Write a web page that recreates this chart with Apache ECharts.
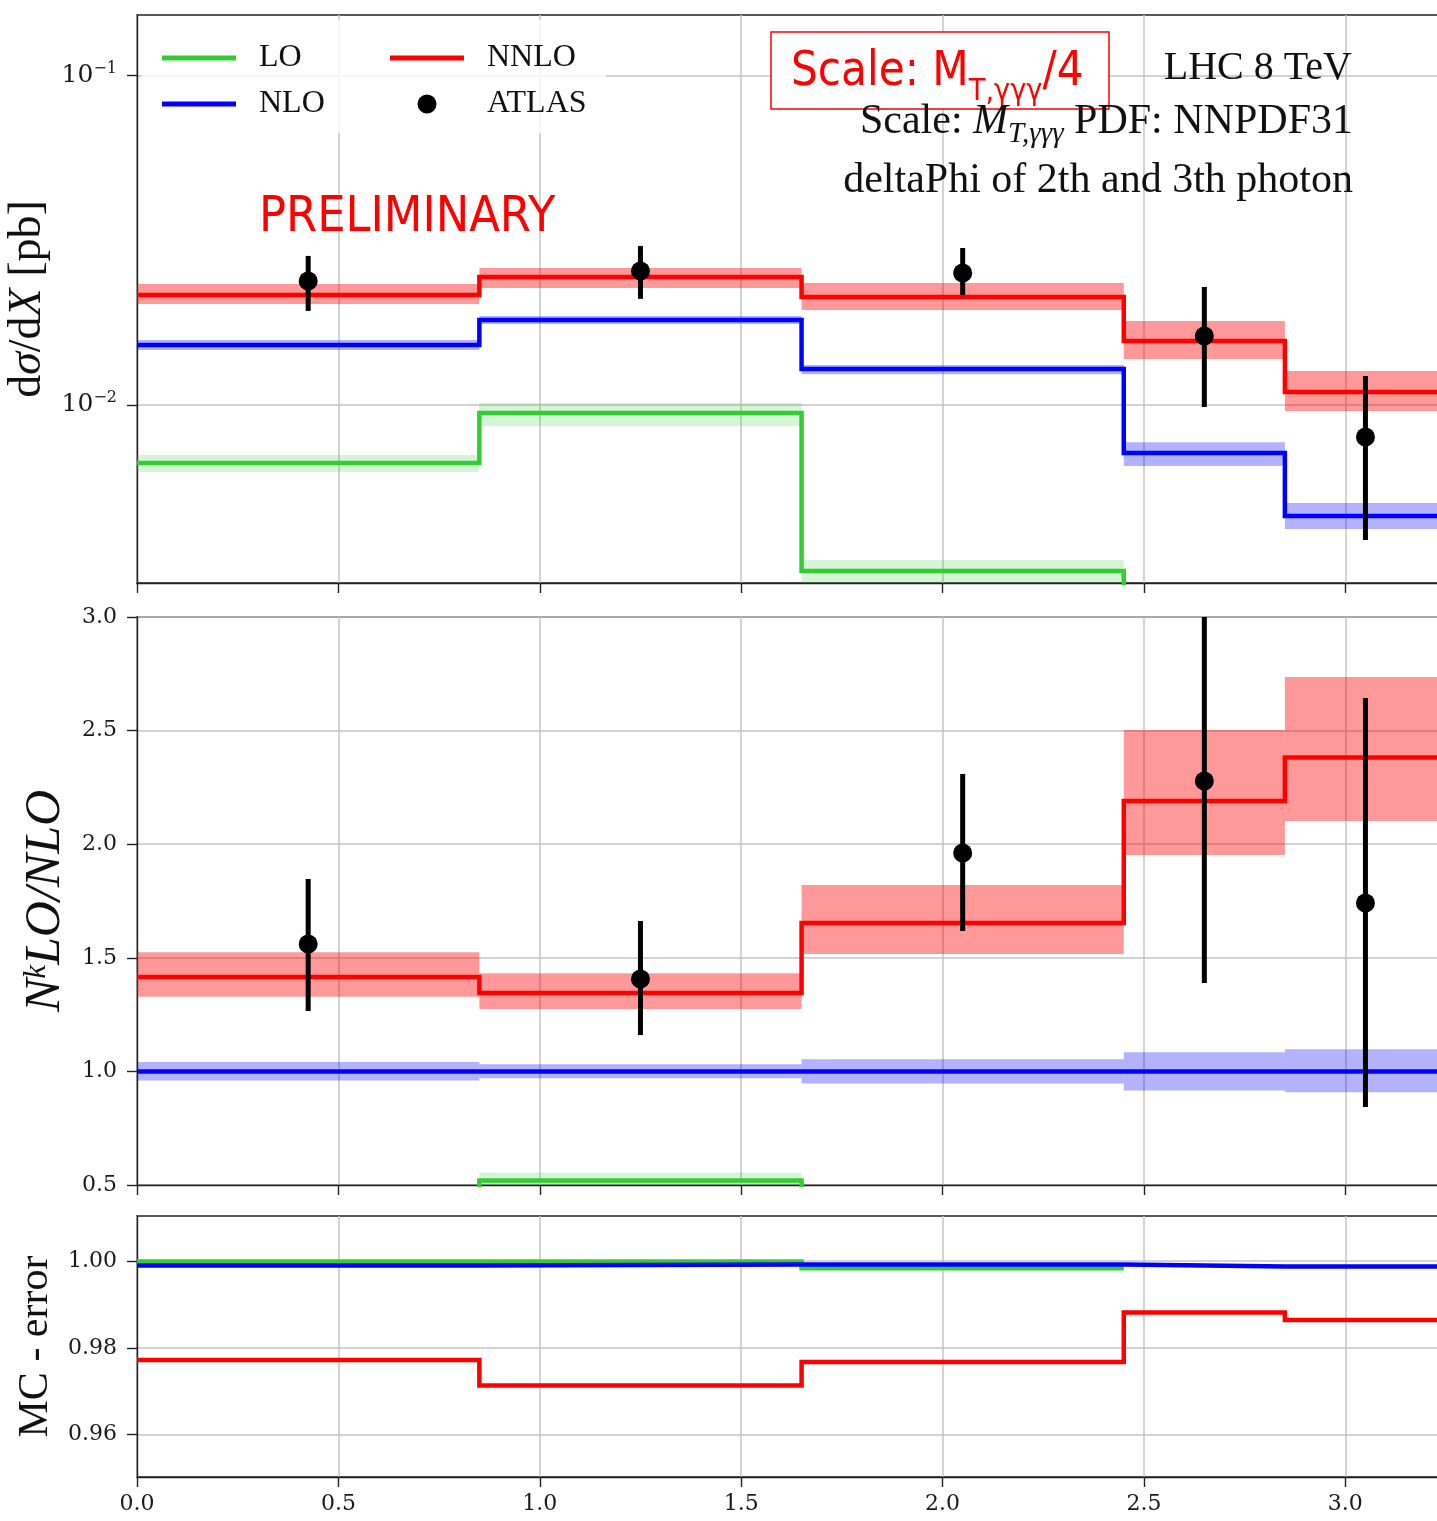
<!DOCTYPE html>
<html>
<head>
<meta charset="utf-8">
<script src="https://cdn.jsdelivr.net/npm/echarts@6/dist/echarts.min.js"></script>
<style>
  html, body { margin: 0; padding: 0; background: #ffffff; }
  #chart { width: 1437px; height: 1521px; }
</style>
</head>
<body>
<div id="chart"></div>
<script>
// ---- binning in deltaPhi (2nd/3rd photon) ----
const binEdges   = [0, 0.85, 1.65, 2.45, 2.85, 3.25];
const binCenters = [0.425, 1.25, 2.05, 2.65, 3.05];

// ---- dσ/dX [pb] ----
const loXsec       = [0.00667, 0.00946, 0.00313, 0, 0];
const loXsecLow    = [0.00626, 0.00863, 0.0028, null, null];
const loXsecHigh   = [0.00705, 0.01014, 0.00338, null, null];
const nloXsec      = [0.01521, 0.01811, 0.01286, 0.00715, 0.00460];
const nloXsecLow   = [0.01469, 0.01762, 0.01240, 0.00653, 0.00420];
const nloXsecHigh  = [0.01575, 0.01862, 0.01322, 0.00771, 0.00504];
const nnloXsec     = [0.02158, 0.02447, 0.02128, 0.01565, 0.01095];
const nnloXsecLow  = [0.02026, 0.02266, 0.01943, 0.01380, 0.00959];
const nnloXsecHigh = [0.02331, 0.02606, 0.02347, 0.01799, 0.01269];
const atlasXsec    = [0.02379, 0.02551, 0.02516, 0.01620, 0.00799];
const atlasXsecLow = [0.01930, 0.02100, 0.02158, 0.00986, 0.00389];
const atlasXsecHigh= [0.02835, 0.03040, 0.02997, 0.02282, 0.01225];

// ---- N^kLO / NLO ----
const loRatio       = [0.44, 0.52, 0.24, 0, 0];
const loRatioLow    = [0.41, 0.48, 0.22, null, null];
const loRatioHigh   = [0.46, 0.555, 0.26, null, null];
const nloRatio      = [1.0, 1.0, 1.0, 1.0, 1.0];
const nloRatioLow   = [0.960, 0.970, 0.947, 0.916, 0.908];
const nloRatioHigh  = [1.041, 1.031, 1.053, 1.084, 1.097];
const nnloRatio     = [1.415, 1.345, 1.653, 2.190, 2.382];
const nnloRatioLow  = [1.329, 1.275, 1.517, 1.952, 2.102];
const nnloRatioHigh = [1.524, 1.432, 1.820, 2.503, 2.736];
const atlasRatio    = [1.561, 1.407, 1.961, 2.278, 1.741];
const atlasRatioLow = [1.266, 1.160, 1.618, 1.389, 0.843];
const atlasRatioHigh= [1.847, 1.662, 2.309, 3.170, 2.643];

// ---- MC - error ----
const loMcError   = [0.99992, 0.99992, 0.99834, null, null];
const nloMcError  = [0.99901, 0.99923, 0.99923, 0.99877, 0.99877];
const nnloMcError = [0.97716, 0.97130, 0.97670, 0.98815, 0.98640];

// ---- axis ranges and ticks ----
const xTickValues   = [0, 0.5, 1.0, 1.5, 2.0, 2.5, 3.0];
const topMajorTicks = [0.01, 0.1];
const topMinorTicks = [0.003, 0.004, 0.005, 0.006, 0.007, 0.008, 0.009,
                       0.02, 0.03, 0.04, 0.05, 0.06, 0.07, 0.08, 0.09];
const mcTickValues  = [0.96, 0.98, 1.00];

const X_MAX = 3.25;
const TOP_MIN = 0.00288, TOP_MAX = 0.1528;
const RATIO_MIN = 0.5, RATIO_MAX = 3.0, RATIO_STEP = 0.5;
const MC_MIN = 0.9502, MC_MAX = 1.0104;

const COLORS = { LO: '#32cd32', NLO: '#0000ff', NNLO: '#ff0000' };
const BAND   = { LO: 'rgba(50,205,50,0.2)', NLO: 'rgba(0,0,255,0.3)', NNLO: 'rgba(255,0,0,0.4)' };

const SERIF = s => `${s}px "Liberation Serif"`;
const ITAL  = s => `italic ${s}px "Liberation Serif"`;
const frame = { color: '#222222', width: 1.4 };
const gridLine = { color: '#c4c4c4', width: 1.5 };

// histogram outline: each bin becomes a flat segment, neighbours joined by verticals
function stepData(vals, floor) {
  const pts = [];
  vals.forEach((v, i) => {
    if (v == null) { pts.push([binEdges[i], null]); return; }
    const y = (floor != null && v <= 0) ? floor : v;   // empty bins sit below a log axis
    pts.push([binEdges[i], y], [binEdges[i + 1], y]);
  });
  return pts;
}

function stepSeries(name, vals, xi, yi, floor) {
  return {
    type: 'line', name, xAxisIndex: xi, yAxisIndex: yi,
    data: stepData(vals, floor), symbol: 'none', clip: true, z: 3,
    color: COLORS[name], silent: true,
    lineStyle: { color: COLORS[name], width: 4.5, join: 'miter', cap: 'butt' }
  };
}

function bandSeries(name, low, high, xi, yi) {
  const rows = low.map((lo, i) => [binEdges[i], binEdges[i + 1], lo, high[i]])
                  .filter(r => r[2] != null && r[3] != null);
  return {
    type: 'custom', name: name + ' band', xAxisIndex: xi, yAxisIndex: yi,
    data: rows, encode: { x: [0, 1], y: [2, 3] }, silent: true, z: 2, clip: true,
    renderItem(params, api) {
      const a = api.coord([api.value(0), api.value(3)]);
      const b = api.coord([api.value(1), api.value(2)]);
      const cs = params.coordSys;
      const shape = echarts.graphic.clipRectByRect(
        { x: a[0], y: a[1], width: b[0] - a[0], height: b[1] - a[1] },
        { x: cs.x, y: cs.y, width: cs.width, height: cs.height });
      return shape && { type: 'rect', shape, style: { fill: BAND[name] } };
    }
  };
}

function errorBarSeries(low, high, xi, yi) {
  return {
    type: 'custom', name: 'ATLAS errors', xAxisIndex: xi, yAxisIndex: yi,
    data: binCenters.map((x, i) => [x, low[i], high[i]]),
    encode: { x: 0, y: [1, 2] }, silent: true, z: 4,
    renderItem(params, api) {
      const top = api.coord([api.value(0), api.value(2)]);
      const bot = api.coord([api.value(0), api.value(1)]);
      const cs = params.coordSys;
      return {
        type: 'line',
        shape: { x1: top[0], y1: Math.max(top[1], cs.y), x2: bot[0], y2: Math.min(bot[1], cs.y + cs.height) },
        style: { stroke: '#000000', lineWidth: 5 }
      };
    }
  };
}

function pointSeries(vals, xi, yi) {
  return {
    type: 'scatter', name: 'ATLAS', xAxisIndex: xi, yAxisIndex: yi,
    data: binCenters.map((x, i) => [x, vals[i]]),
    symbol: 'circle', symbolSize: 19, itemStyle: { color: '#000000', opacity: 1 }, z: 5, silent: true
  };
}

function xAxisFor(gridIndex, showLabels) {
  return {
    type: 'value', gridIndex, min: 0, max: X_MAX,
    axisLine: { show: true, onZero: false, lineStyle: frame },
    axisTick: { show: true, length: 10, lineStyle: frame, customValues: xTickValues },
    axisLabel: {
      show: showLabels, customValues: xTickValues, margin: 16,
      formatter: v => v.toFixed(1),
      fontFamily: 'DejaVu Serif', fontSize: 22, color: '#1a1a1a'
    },
    splitLine: { show: true, lineStyle: gridLine }
  };
}

function gridAt(top, height) {
  return {
    left: 137, top, width: 1309, height, show: true,
    borderColor: '#222222', borderWidth: 1.4,
    outerBoundsMode: 'none', containLabel: false
  };
}

const tickLabel = { fontFamily: 'DejaVu Serif', fontSize: 22, color: '#1a1a1a', margin: 20 };

const option = {
  animation: false,
  backgroundColor: '#ffffff',
  grid: [gridAt(15, 568), gridAt(617, 568), gridAt(1216, 261)],
  xAxis: [xAxisFor(0, false), xAxisFor(1, false), xAxisFor(2, true)],
  yAxis: [
    { // dσ/dX, decades
      type: 'log', logBase: 10, gridIndex: 0, min: TOP_MIN, max: TOP_MAX,
      axisLine: { show: true, lineStyle: frame },
      axisTick: { show: true, length: 10, lineStyle: frame, customValues: topMajorTicks },
      axisLabel: {
        customValues: topMajorTicks, margin: 20,
        formatter: v => '{b|10}{p|−' + Math.round(-Math.log10(v)) + '}',
        rich: {
          b: { fontFamily: 'DejaVu Serif', fontSize: 25, lineHeight: 30, color: '#1a1a1a' },
          p: { fontFamily: 'DejaVu Serif', fontSize: 16, lineHeight: 18, verticalAlign: 'top', color: '#1a1a1a' }
        }
      },
      splitLine: { show: true, lineStyle: gridLine },
      name: 'd{i|σ}/d{i|X} [pb]', nameLocation: 'middle', nameRotate: 90, nameGap: 80,
      nameTextStyle: {
        fontFamily: 'Liberation Serif', fontSize: 46, color: '#111111',
        rich: { i: { fontFamily: 'Liberation Serif', fontStyle: 'italic', fontSize: 46, color: '#111111' } }
      }
    },
    { // dσ/dX, minor ticks
      type: 'log', logBase: 10, gridIndex: 0, min: TOP_MIN, max: TOP_MAX,
      axisLine: { show: false },
      axisTick: { show: true, length: 5, lineStyle: frame, customValues: topMinorTicks },
      axisLabel: { show: false },
      splitLine: { show: false }
    },
    { // ratio
      type: 'value', gridIndex: 1, min: RATIO_MIN, max: RATIO_MAX, interval: RATIO_STEP,
      axisLine: { show: true, lineStyle: frame },
      axisTick: { show: true, length: 10, lineStyle: frame },
      axisLabel: Object.assign({ formatter: v => v.toFixed(1) }, tickLabel),
      splitLine: { show: true, lineStyle: gridLine },
      name: '{i|N}{s|k}{i|LO/NLO}', nameLocation: 'middle', nameRotate: 90, nameGap: 58,
      nameTextStyle: {
        fontFamily: 'Liberation Serif', fontStyle: 'italic', fontSize: 50, color: '#111111',
        rich: {
          i: { fontFamily: 'Liberation Serif', fontStyle: 'italic', fontSize: 50, lineHeight: 50, color: '#111111' },
          s: { fontFamily: 'Liberation Serif', fontStyle: 'italic', fontSize: 31, lineHeight: 22, verticalAlign: 'top', color: '#111111' }
        }
      }
    },
    { // MC - error
      type: 'value', gridIndex: 2, min: MC_MIN, max: MC_MAX,
      axisLine: { show: true, lineStyle: frame },
      axisTick: { show: true, length: 10, lineStyle: frame, customValues: mcTickValues },
      axisLabel: Object.assign({ customValues: mcTickValues, formatter: v => v.toFixed(2) }, tickLabel),
      splitLine: { show: true, lineStyle: gridLine },
      name: 'MC - error', nameLocation: 'middle', nameRotate: 90, nameGap: 78,
      nameTextStyle: { fontFamily: 'Liberation Serif', fontSize: 42, color: '#111111' }
    }
  ],
  legend: [
    legendColumn(162, [{ name: 'LO' }, { name: 'NLO' }]),
    legendColumn(390, [{ name: 'NNLO' }, { name: 'ATLAS', icon: 'circle' }])
  ],
  series: [
    // cross sections
    bandSeries('LO', loXsecLow, loXsecHigh, 0, 0),
    bandSeries('NLO', nloXsecLow, nloXsecHigh, 0, 0),
    bandSeries('NNLO', nnloXsecLow, nnloXsecHigh, 0, 0),
    stepSeries('LO', loXsec, 0, 0, TOP_MIN / 10),
    stepSeries('NLO', nloXsec, 0, 0),
    stepSeries('NNLO', nnloXsec, 0, 0),
    errorBarSeries(atlasXsecLow, atlasXsecHigh, 0, 0),
    pointSeries(atlasXsec, 0, 0),
    // ratios to NLO
    bandSeries('LO', loRatioLow, loRatioHigh, 1, 2),
    bandSeries('NLO', nloRatioLow, nloRatioHigh, 1, 2),
    bandSeries('NNLO', nnloRatioLow, nnloRatioHigh, 1, 2),
    stepSeries('LO', loRatio, 1, 2),
    stepSeries('NLO', nloRatio, 1, 2),
    stepSeries('NNLO', nnloRatio, 1, 2),
    errorBarSeries(atlasRatioLow, atlasRatioHigh, 1, 2),
    pointSeries(atlasRatio, 1, 2),
    // Monte Carlo error
    stepSeries('LO', loMcError, 2, 3),
    stepSeries('NLO', nloMcError, 2, 3),
    stepSeries('NNLO', nnloMcError, 2, 3)
  ],
  graphic: { elements: buildAnnotations() }
};

function legendColumn(left, items) {
  const bar = 'path://M0,0H74V5H0Z';
  return {
    orient: 'vertical', left, top: 40, padding: 0,
    itemWidth: 74, itemHeight: 19, itemGap: 10, symbolKeepAspect: true,
    selectedMode: false, itemStyle: { borderWidth: 0, opacity: 1 },
    textStyle: { fontFamily: 'Liberation Serif', fontSize: 32, color: '#111111', lineHeight: 36, padding: [0, 0, 0, 18] },
    data: items.map(it => Object.assign({ icon: bar }, it))
  };
}

// ---- text annotations ----
function buildAnnotations() {
  const ctx = document.createElement('canvas').getContext('2d');
  const measure = (t, font) => { ctx.font = font; return ctx.measureText(t).width; };
  // lay out mixed-font pieces on one baseline
  function run(parts, anchorX, baseline, align, fill) {
    const widths = parts.map(p => measure(p.t, p.font));
    const total = widths.reduce((a, b) => a + b, 0);
    let x = align === 'right' ? anchorX - total : anchorX;
    return parts.map((p, i) => {
      const el = {
        type: 'text', x, y: baseline + (p.dy || 0) - 0.34 * p.size, z: 10,
        style: { text: p.t, font: p.font, fill, textAlign: 'left', textVerticalAlign: 'middle', verticalAlign: 'middle' }
      };
      x += widths[i];
      return el;
    });
  }
  const sans = s => `${s}px "DejaVu Sans"`;
  return [
    { // legend backdrop
      type: 'rect', z: 1, silent: true,
      shape: { x: 142, y: 20, width: 464, height: 113, r: 4 },
      style: { fill: 'rgba(255,255,255,0.8)' }
    },
    { // scale box
      type: 'rect', z: 9, silent: true,
      shape: { x: 771, y: 32, width: 338, height: 77 },
      style: { fill: '#ffffff', stroke: '#ff0000', lineWidth: 1.5 }
    },
    {
      type: 'group', x: 791, y: 0, scaleX: 0.88, z: 10,
      children: run([
        { t: 'Scale: M', font: sans(48), size: 48 },
        { t: 'T,γγγ', font: sans(31), size: 31, dy: 13 },
        { t: '/4', font: sans(48), size: 48 }
      ], 0, 89, 'left', '#ff0000')
    },
    {
      type: 'group', x: 259, y: 0, scaleX: 0.915, z: 10,
      children: run([{ t: 'PRELIMINARY', font: sans(49), size: 49 }], 0, 235, 'left', '#ff0000')
    },
    ...run([{ t: 'LHC 8 TeV', font: SERIF(40), size: 40 }], 1352, 82, 'right', '#111111'),
    ...run([
      { t: 'Scale: ', font: SERIF(42), size: 42 },
      { t: 'M', font: ITAL(42), size: 42 },
      { t: 'T,γγγ', font: ITAL(29), size: 29, dy: 8 },
      { t: ' PDF: NNPDF31', font: SERIF(42), size: 42 }
    ], 1353, 136, 'right', '#111111'),
    ...run([{ t: 'deltaPhi of 2th and 3th photon', font: SERIF(42), size: 42 }], 1353, 195, 'right', '#111111')
  ];
}

const chart = echarts.init(document.getElementById('chart'), null, { renderer: 'canvas' });
chart.setOption(option);
</script>
</body>
</html>
